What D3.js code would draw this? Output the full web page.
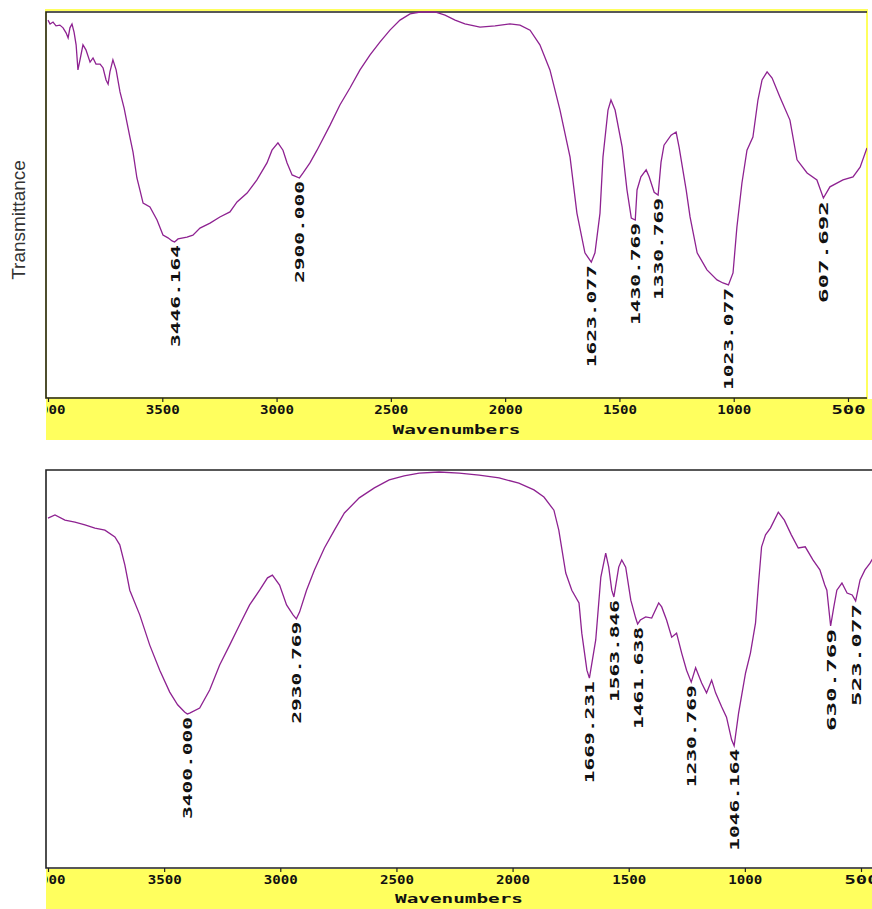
<!DOCTYPE html>
<html>
<head>
<meta charset="utf-8">
<script src="https://cdn.jsdelivr.net/npm/d3@7"></script>
<style>
  html, body { margin: 0; padding: 0; background: #ffffff; }
  svg { display: block; }
</style>
</head>
<body>
<svg id="chart" width="872" height="909"></svg>
<script>
// ---- Spectrum A (upper panel): wavenumber (cm-1) and transmittance (%) ----
const topWavenumbers = [4000,3991,3978,3965,3948,3934,3921,3912,3904,3895,3886,3877,3869,3860,3847,3834,3816,3803,3790,3772,3759,3746,3737,3729,3716,3702,3685,3667,3654,3641,3628,3611,3598,3584,3554,3523,3497,3475,3457,3446.164,3431,3392,3366,3335,3291,3248,3204,3173,3129,3086,3042,3020,2994,2972,2954,2932,2900,2884,2854,2823,2766,2723,2679,2635,2591,2548,2504,2460,2416,2372,2307,2263,2219,2176,2110,2044,1979,1935,1891,1848,1804,1760,1716,1686,1651,1623.077,1607,1585,1572,1550,1537,1519,1488,1467,1448,1430.769,1423,1406,1383,1370,1348,1330.769,1318,1305,1274,1252,1239,1208,1191,1160,1117,1073,1047,1023.077,1003,986,964,942,916,894,876,854,832,798,754,723,679,636,607.692,579,522,478,447,417];
const topTransmittance = [97.9,96.9,97.4,96.4,96.6,95.9,94.6,93.3,95.9,96.9,94.8,91.5,85.0,87.6,91.5,90.2,87.0,88.1,86.5,86.5,85.5,82.4,81.3,84.5,87.6,85.0,79.3,75.1,71.2,67.4,63.7,57.0,53.9,50.5,49.5,46.1,42.2,41.5,40.7,40.4,41.2,41.7,42.2,44.0,45.3,46.9,48.2,50.8,53.1,56.5,60.9,64.2,66.1,64.2,60.9,57.8,57.0,58.3,60.9,64.2,70.7,75.9,80.3,85.0,88.9,92.2,95.3,97.9,99.5,100,100,99.2,97.9,96.9,96.1,96.4,96.9,96.6,95.3,91.5,85.0,74.6,62.4,47.9,37.6,35.2,37.6,47.9,62.4,74.6,77.2,74.6,65.0,53.9,46.6,46.1,53.9,57.3,59.1,57.3,53.3,52.6,61.1,65.5,68.1,68.9,65.0,53.9,46.9,37.6,33.2,30.6,29.8,29.3,32.4,44.3,55.7,64.2,67.6,77.2,82.4,84.5,82.9,78.0,72.0,61.7,58.3,56.5,51.8,54.7,56.5,57.3,59.8,64.8];
const topPeaks = [3446.164, 2900.000, 1623.077, 1430.769, 1330.769, 1023.077, 607.692];

// ---- Spectrum B (lower panel) ----
const bottomWavenumbers = [4000,3970,3927,3884,3841,3798,3755,3712,3691,3669,3648,3605,3562,3519,3476,3442,3412,3400,3390,3347,3304,3261,3218,3175,3132,3089,3055,3034,3003,2973,2945,2930.769,2917,2887,2853,2810,2767,2724,2660,2595,2531,2467,2402,2316,2230,2144,2058,1973,1908,1865,1822,1801,1771,1745,1714,1702,1680,1669.231,1642,1620,1599,1586,1573,1563.846,1543,1530,1513,1491,1470,1461.638,1450,1427,1401,1371,1358,1337,1315,1294,1272,1251,1230.769,1212,1186,1165,1143,1126,1100,1079,1057,1046.164,1027,997,976,954,941,928,911,890,856,830,800,770,740,707,677,656,647,630.769,617,604,582,560,538,523.077,504,483,461,448];
const bottomTransmittance = [87.9,88.7,87.4,86.9,86.2,85.4,84.9,83.2,81.2,76.1,69.8,63.6,56.0,49.7,44.2,41.0,39.2,38.7,38.9,40.2,44.7,51.0,56.0,61.1,66.1,69.8,72.9,73.6,71.1,66.1,63.6,62.6,64.3,69.8,74.9,80.4,84.9,89.2,93.0,95.5,97.5,98.5,99.2,99.5,99.2,98.7,98.0,96.7,95.0,93.2,89.9,84.9,74.1,69.8,66.6,59.0,49.7,47.7,57.3,73.1,79.1,75.6,69.8,68.1,75.6,77.4,75.6,67.3,62.8,61.3,62.3,63.1,62.8,66.6,65.6,62.3,58.0,59.0,54.0,49.7,46.7,50.3,46.5,44.0,47.2,44.0,40.5,37.9,32.2,30.7,38.9,49.0,54.0,61.6,71.6,80.7,83.7,85.4,89.4,87.4,83.7,80.4,80.7,77.4,74.9,71.1,69.8,60.8,65.6,69.8,71.6,69.1,68.6,67.1,72.4,74.9,76.6,77.9];
const bottomPeaks = [3400.000, 2930.769, 1669.231, 1563.846, 1461.638, 1230.769, 1046.164, 630.769, 523.077];

// ---- Axis ticks ----
const tickValues = [4000, 3500, 3000, 2500, 2000, 1500, 1000, 500];
const axisTitle = "Wavenumbers";
const yTitle = "Transmittance";

const svg = d3.select("#chart");
const lineColor = "#8e2291";
const bandColor = "#ffff5e";
const monoFont = "'DejaVu Sans Mono', 'Liberation Mono', monospace";

const panels = [
  {
    id: "a", wn: topWavenumbers, t: topTransmittance, peaks: topPeaks,
    frame: {x0: 46, x1: 867, y0: 12, y1: 398},
    band: {y0: 399, y1: 440},
    xRange: [48, 848], yRange: [398, 12],
    tickY: 405, titleY: 434, drawRight: true
  },
  {
    id: "b", wn: bottomWavenumbers, t: bottomTransmittance, peaks: bottomPeaks,
    frame: {x0: 46, x1: 872, y0: 470, y1: 868},
    band: {y0: 869, y1: 909},
    xRange: [48, 861], yRange: [868, 470],
    tickY: 875, titleY: 903, drawRight: false
  }
];

const defs = svg.append("defs");

panels.forEach(p => {
  const x = d3.scaleLinear().domain([4000, 500]).range(p.xRange);
  const y = d3.scaleLinear().domain([0, 100]).range(p.yRange);
  const f = p.frame;
  const g = svg.append("g");

  // clip regions for plot and axis band (absolute page coordinates)
  defs.append("clipPath").attr("id", "plot-" + p.id)
    .append("rect").attr("x", f.x0).attr("y", f.y0 - 1)
    .attr("width", f.x1 - f.x0).attr("height", f.y1 - f.y0 + 1);
  defs.append("clipPath").attr("id", "band-" + p.id)
    .append("rect").attr("x", f.x0 + 1).attr("y", f.y1 - 2)
    .attr("width", 872 - f.x0).attr("height", p.band.y1 - f.y1 + 2);

  // yellow axis band
  g.append("rect").attr("x", f.x0).attr("y", p.band.y0)
    .attr("width", 872 - f.x0).attr("height", p.band.y1 - p.band.y0)
    .attr("fill", bandColor);

  // frame: yellow outline with dark left/top/bottom edges
  if (p.drawRight) {
    g.append("rect").attr("x", f.x0).attr("y", f.y0 - 2)
      .attr("width", f.x1 - f.x0).attr("height", f.y1 - f.y0 + 2)
      .attr("fill", "none").attr("stroke", bandColor).attr("stroke-width", 2);
  }
  g.append("path")
    .attr("d", `M${f.x1},${f.y0}H${f.x0}V${f.y1}H${f.x1}`)
    .attr("fill", "none").attr("stroke", "#222").attr("stroke-width", 1.6);

  // spectrum trace
  const pts = p.wn.map((w, i) => [w, p.t[i]]);
  const line = d3.line().x(d => x(d[0])).y(d => y(d[1]));
  g.append("path").datum(pts)
    .attr("clip-path", `url(#plot-${p.id})`)
    .attr("d", line)
    .attr("fill", "none").attr("stroke", lineColor).attr("stroke-width", 1.3)
    .attr("stroke-linejoin", "miter");

  // peak labels, rotated, hanging below each minimum
  p.peaks.forEach(pk => {
    const i = p.wn.indexOf(pk);
    const yy = y(p.t[i]) + 3;
    const xx = x(pk);
    g.append("text")
      .attr("transform", `translate(${xx + 1},${yy}) rotate(-90)`)
      .attr("text-anchor", "end")
      .attr("dominant-baseline", "central")
      .attr("font-family", monoFont).attr("font-weight", "bold")
      .attr("font-size", 12).attr("fill", "#111")
      .attr("textLength", 102).attr("lengthAdjust", "spacingAndGlyphs")
      .text(pk.toFixed(3));
  });

  // x axis ticks and labels (outer group clipped, inner group translated)
  const axis = d3.axisBottom(x).tickValues(tickValues).tickSize(4).tickPadding(3)
    .tickFormat(d3.format("d"));
  const ag = g.append("g").attr("clip-path", `url(#band-${p.id})`)
    .append("g").attr("transform", `translate(0,${f.y1})`)
    .call(axis);
  ag.select(".domain").remove();
  ag.selectAll(".tick line").attr("stroke", "#222").attr("stroke-width", 1.2);
  ag.selectAll(".tick text")
    .attr("font-family", monoFont).attr("font-weight", "bold")
    .attr("font-size", 12).attr("fill", "#111")
    .attr("textLength", 34).attr("lengthAdjust", "spacingAndGlyphs")
    .attr("y", p.tickY - f.y1).attr("dy", "0.71em");
  ag.attr("font-size", null).attr("font-family", null);

  g.append("text")
    .attr("x", (f.x0 + f.x1) / 2).attr("y", p.titleY)
    .attr("text-anchor", "middle")
    .attr("font-family", monoFont).attr("font-weight", "bold")
    .attr("font-size", 12).attr("fill", "#111")
    .attr("textLength", 128).attr("lengthAdjust", "spacingAndGlyphs")
    .text(axisTitle);
});

// y-axis title
svg.append("text")
  .attr("transform", "translate(25,220) rotate(-90)")
  .attr("text-anchor", "middle")
  .attr("font-family", "'Liberation Sans', Arial, sans-serif")
  .attr("font-size", 19).attr("fill", "#333")
  .text(yTitle);
</script>
</body>
</html>
